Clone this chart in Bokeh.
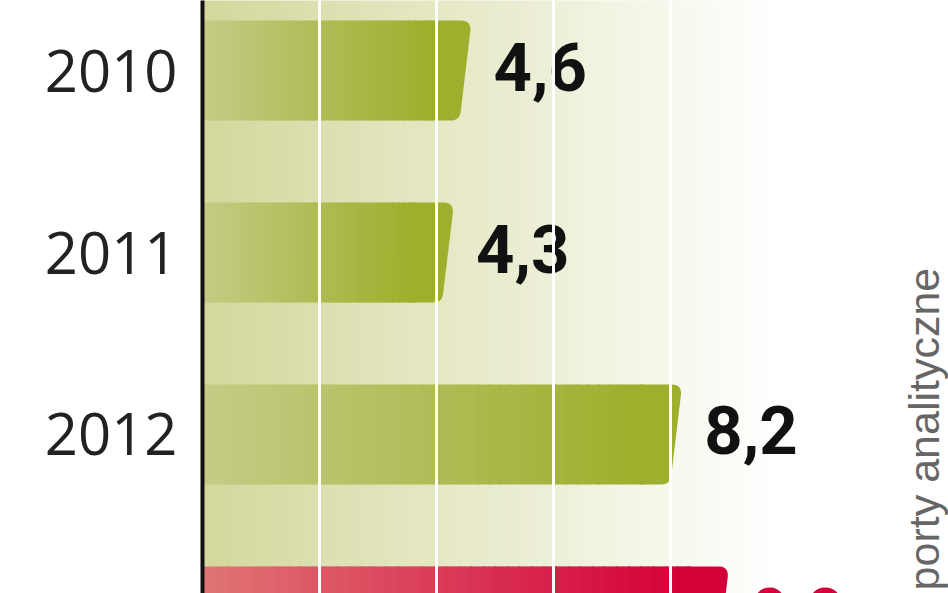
import numpy as np
from bokeh.plotting import figure
from bokeh.models import Range1d, FixedTicker, Label, ColumnDataSource
from bokeh.core.properties import value
from bokeh.embed import file_html
from bokeh.resources import INLINE

# ---- data -------------------------------------------------------------
years = [2010, 2011, 2012, 2013]
year_labels = ["2010", "2011", "2012", "2013"]
values = [4.6, 4.3, 8.2, 9.0]
value_labels = ["4,6", "4,3", "8,2", "9,0"]
bar_kinds = ["actual", "actual", "actual", "forecast"]
grid_ticks = [2, 4, 6, 8]
source_note = "porty analityczne"

# ---- styles -----------------------------------------------------------
GRAD = {
    "actual": ((198, 203, 134), (157, 175, 44)),
    "forecast": ((224, 118, 118), (212, 0, 56)),
}
LABEL_COLOR = {"actual": "#111111", "forecast": "#d4003a"}
BG_LEFT = (212, 216, 156)

W, H = 948, 593
LEFT = 202
X_END = 12.752
Y_TOP, Y_BOT = 2009.615, 2012.874
BAR_H = 0.55
PX_X = (W - LEFT) / X_END          # pixels per x unit
PX_Y = H / (Y_BOT - Y_TOP)         # pixels per year


def mix(c0, c1, t):
    return "#%02x%02x%02x" % tuple(int(round(a + (b - a) * t)) for a, b in zip(c0, c1))


def rounded(poly, radii, steps=8):
    """poly: list of pixel points; radii: corner radius per vertex."""
    out = []
    n = len(poly)
    for i in range(n):
        P = np.array(poly[i], float)
        r = radii[i]
        if r <= 0:
            out.append(tuple(P))
            continue
        A = np.array(poly[i - 1], float)
        B = np.array(poly[(i + 1) % n], float)
        pa = P + (A - P) * r / np.linalg.norm(A - P)
        pb = P + (B - P) * r / np.linalg.norm(B - P)
        for s in np.linspace(0, 1, steps):
            q = (1 - s) ** 2 * pa + 2 * (1 - s) * s * P + s ** 2 * pb
            out.append(tuple(q))
    return out


p = figure(
    width=W, height=H,
    output_backend="svg", toolbar_location=None,
    x_range=Range1d(0, X_END),
    y_range=Range1d(Y_BOT, Y_TOP),
    x_axis_location=None, y_axis_location="left",
    min_border_left=LEFT, min_border_right=0,
    min_border_top=0, min_border_bottom=0,
)
p.outline_line_color = None
p.background_fill_color = "white"
p.border_fill_color = "white"

# background gradient (decoration)
n = 256
t = np.linspace(0.0, 1.0, n)
c0 = np.array(BG_LEFT, dtype=float)
c1 = np.array([255.0, 255.0, 255.0])
cols = (c0[None, :] * (1 - t[:, None]) + c1[None, :] * t[:, None]).astype(np.uint8)
img = np.empty((1, n), dtype=np.uint32)
view = img.view(dtype=np.uint8).reshape((1, n, 4))
view[0, :, 0:3] = cols
view[0, :, 3] = 255
p.image_rgba(image=[img], x=0, y=2009.0, dw=9.7, dh=4.5)

# bars: gradient slices + slanted, rounded end cap
N = 40
CAP_PX = 40
SLANT_PX = 12
half = BAR_H * PX_Y / 2
body = dict(y=[], left=[], right=[], color=[])
caps = dict(xs=[], ys=[], color=[])
for yr, v, kind in zip(years, values, bar_kinds):
    g0, g1 = GRAD[kind]
    blen = v - CAP_PX / PX_X
    for k in range(N):
        body["y"].append(yr)
        body["left"].append(blen * k / N)
        body["right"].append(blen * (k + 1) / N + 0.03)
        body["color"].append(mix(g0, g1, (k + 1) / N))
    pts = rounded([(-CAP_PX - 2, -half), (0, -half), (-SLANT_PX, half), (-CAP_PX - 2, half)],
                  [0, 11, 9, 0])
    caps["xs"].append([v + px / PX_X for px, py in pts])
    caps["ys"].append([yr + py / PX_Y for px, py in pts])
    caps["color"].append(mix(g0, g1, 1.0))

p.hbar(y="y", left="left", right="right", height=BAR_H, fill_color="color",
       line_color=None, source=ColumnDataSource(body))
p.patches(xs="xs", ys="ys", fill_color="color", line_color=None,
          source=ColumnDataSource(caps))

# value labels
lab = ColumnDataSource(dict(
    x=values, y=years, text=value_labels,
    color=[LABEL_COLOR[k] for k in bar_kinds],
))
p.text(x="x", y="y", text="text", source=lab, x_offset=22, y_offset=-4,
       text_baseline="middle", text_align="left",
       text_font=value("Roboto"), text_font_style="bold",
       text_font_size="67px", text_color="color")

# grid: white vertical lines over the bars
p.ygrid.visible = False
p.xgrid.ticker = FixedTicker(ticks=grid_ticks)
p.xgrid.grid_line_color = "white"
p.xgrid.grid_line_width = 3
p.xgrid.level = "overlay"

# y axis with year labels
ax = p.yaxis[0]
ax.ticker = FixedTicker(ticks=years)
ax.major_label_overrides = {y: s for y, s in zip(years, year_labels)}
ax.major_tick_line_color = None
ax.minor_tick_line_color = None
ax.major_tick_in = 0
ax.major_tick_out = 0
ax.axis_line_color = "#111111"
ax.axis_line_width = 4
ax.major_label_standoff = 25
ax.major_label_text_font = "Open Sans"
ax.major_label_text_font_size = "58px"
ax.major_label_text_color = "#222222"

# source note, rotated
p.add_layout(Label(
    x=12.34, y=2012.857, text=source_note, angle=np.pi / 2,
    text_align="left", text_baseline="alphabetic",
    text_font="Liberation Sans", text_font_size="43px",
    text_color="#666666",
))

open("out.html", "w").write(file_html(p, INLINE))
